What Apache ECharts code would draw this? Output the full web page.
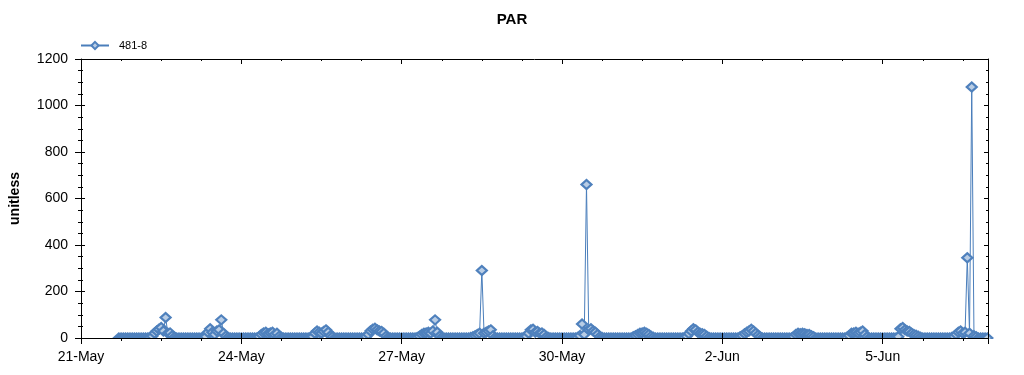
<!DOCTYPE html>
<html>
<head>
<meta charset="utf-8">
<script src="https://cdn.jsdelivr.net/npm/echarts@6/dist/echarts.min.js"></script>
<style>
html,body{margin:0;padding:0;background:#fff;}
#chart{width:1024px;height:375px;}
</style>
</head>
<body>
<div id="chart"></div>
<script>
// Hourly PAR readings, one array per day (hours 0..23); first day starts at 17:00
const may21 = [0,0,0,0,0,0,0];
const may22 = [0,0,0,0,0,0,0,2,8,20,30,38,45,30,88,20,22,10,3,0,0,0,0,0];
const may23 = [0,0,0,0,0,0,0,0,5,25,40,25,15,30,35,78,20,8,2,0,0,0,0,0];
const may24 = [0,0,0,0,0,0,0,0,5,15,22,25,18,22,25,15,20,8,2,0,0,0,0,0];
const may25 = [0,0,0,0,0,0,0,0,5,20,30,25,20,28,35,25,10,5,0,0,0,0,0,0];
const may26 = [0,0,0,0,0,0,0,0,5,15,30,38,42,35,30,28,20,8,2,0,0,0,0,0];
const may27 = [0,0,0,0,0,0,0,2,8,15,20,22,25,20,30,78,25,8,2,0,0,0,0,0];
const may28 = [0,0,0,0,0,0,0,2,5,10,15,20,290,20,25,30,35,10,2,0,0,0,0,0];
const may29 = [0,0,0,0,0,0,0,2,8,20,35,38,25,28,20,22,15,5,2,0,0,0,0,0];
const may30 = [0,0,0,0,0,0,0,2,10,60,15,660,35,40,30,25,15,5,2,0,0,0,0,0];
const may31 = [0,0,0,0,0,0,0,0,5,10,15,20,22,25,20,15,8,3,0,0,0,0,0,0];
const jun01 = [0,0,0,0,0,0,0,2,8,18,30,40,35,25,20,18,15,8,2,0,0,0,0,0];
const jun02 = [0,0,0,0,0,0,0,0,5,10,18,25,30,38,30,20,12,5,0,0,0,0,0,0];
const jun03 = [0,0,0,0,0,0,0,0,5,15,20,18,20,18,15,15,10,5,0,0,0,0,0,0];
const jun04 = [0,0,0,0,0,0,0,0,3,10,20,22,25,20,25,30,15,5,0,0,0,0,0,0];
const jun05 = [0,0,0,0,0,0,0,5,40,45,35,30,28,20,15,12,8,3,0,0,0,0,0,0];
const jun06 = [0,0,0,0,0,0,0,2,5,15,25,30,20,25,345,20,1080,10,5,0,0,0,0,0];

const startHour = 17;          // first sample: 21-May 17:00 (hours since 21-May 00:00)
const xTickLabels = ['21-May','24-May','27-May','30-May','2-Jun','5-Jun'];
const seriesName = '481-8';

const values = [].concat(may21,may22,may23,may24,may25,may26,may27,may28,may29,may30,may31,
                         jun01,jun02,jun03,jun04,jun05,jun06);
const data = values.map((v,i)=>[startHour+i, v]);

const FONT = 'Liberation Sans, Arial, sans-serif';
const X_MIN = 0, X_MAX = 407.3, X_INT = 72;
const Y_MIN = 0, Y_MAX = 1200, Y_INT = 200;

function xFmt(v){ const k = v / X_INT; return Number.isInteger(k) && xTickLabels[k] ? xTickLabels[k] : ''; }
function yFmt(v){ return String(v); }

const chart = echarts.init(document.getElementById('chart'), null, {renderer:'canvas'});
const baseX = {type:'value', min:X_MIN, max:X_MAX, interval:X_INT, splitLine:{show:false}, z:10};
const baseY = {type:'value', min:Y_MIN, max:Y_MAX, interval:Y_INT, splitLine:{show:false}, z:10};
chart.setOption({
  animation:false,
  backgroundColor:'#fff',
  title:{text:'PAR', left:'center', top:7, textStyle:{fontFamily:FONT, fontSize:15, fontWeight:'bold', color:'#000'}},
  legend:{left:75, top:35, itemWidth:28, itemHeight:9, itemGap:10,
          textStyle:{fontFamily:FONT, fontSize:11, color:'#000', padding:[0,0,0,5]},
          data:[seriesName]},
  grid:{left:77, right:36, top:59, bottom:37, containLabel:false},
  graphic:[{type:'rect', z:5, silent:true, shape:{x:72, y:339, width:922, height:6}, style:{fill:'#fff'}}],
  xAxis:[
    Object.assign({}, baseX, {position:'bottom',
      axisLine:{show:true, onZero:false, lineStyle:{color:'#000', width:1}},
      axisTick:{show:true, inside:false, length:6, lineStyle:{color:'#000'}},
      minorTick:{show:true, splitNumber:4, length:3, lineStyle:{color:'#000'}},
      axisLabel:{show:true, margin:12, fontFamily:FONT, fontSize:14, color:'#000', formatter:xFmt, showMaxLabel:false}}),
    Object.assign({}, baseX, {position:'bottom',
      axisLine:{show:false, onZero:false},
      axisTick:{show:true, inside:true, length:5, lineStyle:{color:'#000'}},
      minorTick:{show:false}, axisLabel:{show:false}}),
    Object.assign({}, baseX, {position:'top',
      axisLine:{show:true, onZero:false, lineStyle:{color:'#000', width:1}},
      axisTick:{show:true, inside:true, length:5, lineStyle:{color:'#000'}},
      minorTick:{show:true, splitNumber:4, length:2, lineStyle:{color:'#000'}},
      axisLabel:{show:false}})
  ],
  yAxis:[
    Object.assign({}, baseY, {position:'left', name:'unitless', nameLocation:'middle', nameRotate:90, nameGap:59,
      nameMoveOverlap:false,
      nameTextStyle:{fontFamily:FONT, fontSize:14, fontWeight:'bold', color:'#000'},
      axisLine:{show:true, onZero:false, lineStyle:{color:'#000', width:1}},
      axisTick:{show:true, inside:false, length:6, lineStyle:{color:'#000'}},
      minorTick:{show:true, splitNumber:4, length:3, lineStyle:{color:'#000'}},
      axisLabel:{show:true, margin:13, fontFamily:FONT, fontSize:14, color:'#000', formatter:yFmt}}),
    Object.assign({}, baseY, {position:'left',
      axisLine:{show:false, onZero:false},
      axisTick:{show:true, inside:true, length:4, lineStyle:{color:'#000'}},
      minorTick:{show:true, splitNumber:4, length:2, lineStyle:{color:'#000'}},
      axisLabel:{show:false}}),
    Object.assign({}, baseY, {position:'right',
      axisLine:{show:true, onZero:false, lineStyle:{color:'#000', width:1}},
      axisTick:{show:true, inside:true, length:4, lineStyle:{color:'#000'}},
      minorTick:{show:true, splitNumber:4, length:2, lineStyle:{color:'#000'}},
      axisLabel:{show:false}})
  ],
  series:[{
    name:seriesName, type:'line', xAxisIndex:0, yAxisIndex:0, data:data, z:2,
    symbol:'diamond', symbolSize:[10,9], showSymbol:true, showAllSymbol:true,
    lineStyle:{color:'#4A7EBB', width:1},
    itemStyle:{color:'#B9CDE5', borderColor:'#4F81BD', borderWidth:2.2},
    emphasis:{disabled:true}
  }]
});
</script>
</body>
</html>
